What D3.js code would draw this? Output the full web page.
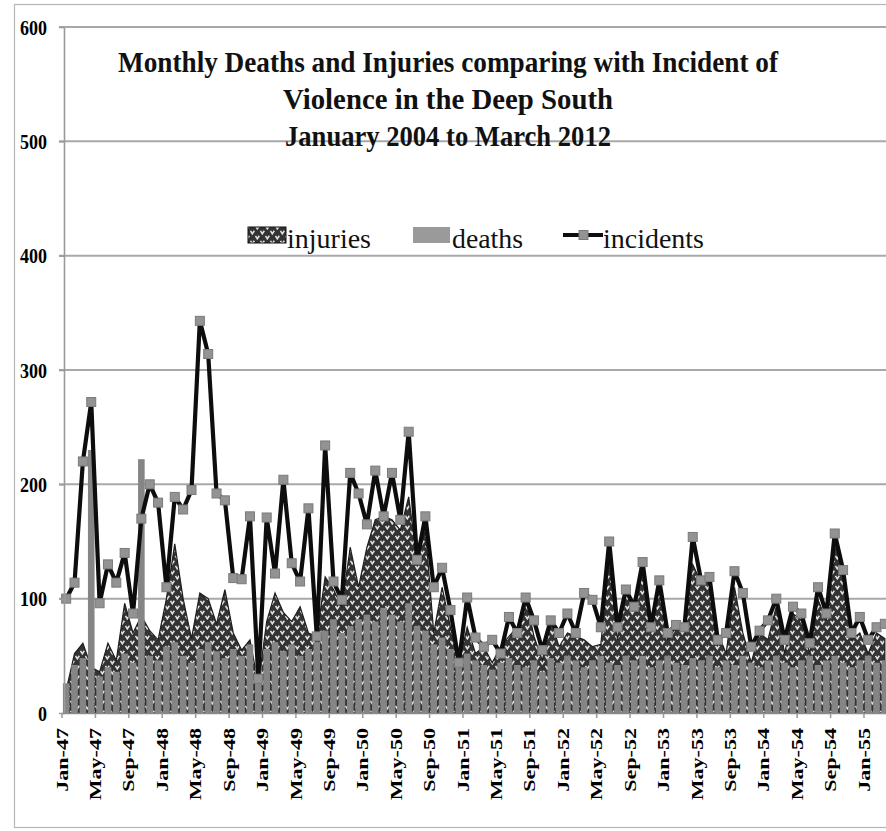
<!DOCTYPE html>
<html>
<head>
<meta charset="utf-8">
<script src="https://cdn.jsdelivr.net/npm/d3@7/dist/d3.min.js"></script>
<style>
  body { margin: 0; background: #fff; }
  svg { display: block; }
</style>
</head>
<body>
<svg id="chart" width="886" height="831"></svg>
<script>
// Month categories, January 2547 (2004) to March 2555 (2012), Thai year labels
const monthNames = ["Jan","Feb","Mar","Apr","May","Jun","Jul","Aug","Sep","Oct","Nov","Dec"];
const years = [47, 48, 49, 50, 51, 52, 53, 54, 55];
const categories = [];
years.forEach(y => monthNames.forEach((m, i) => {
  if (y < 55 || i < 3) categories.push(m + "-" + y);
}));

// Monthly injuries
const injuries = [
  20, 52, 61, 40, 36, 61, 46, 96, 70, 85, 72, 64,
  100, 148, 100, 65, 105, 100, 78, 108, 70, 55, 64, 25,
  80, 105, 88, 80, 93, 70, 67, 119, 108, 93, 145, 110,
  145, 169, 172, 169, 160, 189, 134, 160, 70, 110, 75, 44,
  75, 52, 58, 44, 58, 67, 75, 101, 67, 46, 81, 58,
  70, 67, 64, 58, 60, 135, 64, 105, 90, 128, 70, 114,
  64, 75, 75, 130, 114, 116, 70, 52, 110, 70, 44, 70,
  64, 93, 52, 87, 81, 52, 99, 81, 151, 122, 64, 70,
  52, 70, 65
];

// Monthly deaths
const deaths = [
  26, 42, 48, 230, 32, 40, 36, 52, 44, 222, 50, 46,
  58, 62, 50, 44, 56, 62, 54, 48, 56, 50, 60, 42,
  56, 62, 54, 60, 50, 56, 62, 72, 82, 70, 76, 82,
  86, 80, 92, 86, 80, 96, 76, 72, 60, 66, 56, 40,
  52, 46, 42, 38, 44, 48, 42, 40, 46, 36, 48, 44,
  50, 46, 40, 46, 50, 44, 42, 50, 46, 50, 40, 46,
  50, 44, 42, 48, 46, 50, 40, 46, 42, 50, 44, 40,
  46, 50, 44, 40, 46, 50, 42, 46, 50, 44, 40, 46,
  50, 44, 46
];

// Monthly incidents of violence
const incidents = [
  100, 114, 220, 272, 96, 130, 114, 140, 87, 170, 200, 184,
  110, 189, 178, 195, 343, 314, 192, 186, 118, 117, 172, 30,
  171, 122, 204, 131, 115, 179, 67, 234, 115, 99, 210, 192,
  165, 212, 172, 210, 169, 246, 134, 172, 110, 127, 90, 44,
  101, 66, 58, 64, 52, 84, 70, 101, 81, 55, 81, 70,
  87, 70, 105, 99, 75, 150, 75, 108, 93, 132, 75, 116,
  70, 77, 75, 154, 116, 119, 64, 70, 124, 105, 58, 72,
  81, 100, 64, 93, 87, 61, 110, 87, 157, 125, 70, 84,
  64, 75, 78
];

const yTicks = [0, 100, 200, 300, 400, 500, 600];
const xTickLabels = categories.filter((d, i) => i % 4 === 0);

const titleLines = [
  "Monthly Deaths and Injuries comparing with Incident of",
  "Violence in the Deep South",
  "January 2004 to March 2012"
];
const titleWidths = [660, 330, 326];
const legendItems = ["injuries", "deaths", "incidents"];
const legendWidths = [84, 71, 101];

const serif = "'Liberation Serif', 'Times New Roman', serif";

const svg = d3.select("#chart");

// Frame around the chart
svg.append("rect")
  .attr("x", 14.5).attr("y", 4.5)
  .attr("width", 900).attr("height", 823)
  .attr("fill", "#fff")
  .attr("stroke", "#b4b4b4").attr("stroke-width", 1.2);

// Weave fill used by the injuries area
const defs = svg.append("defs");
const weave = defs.append("pattern")
  .attr("id", "weave")
  .attr("patternUnits", "userSpaceOnUse")
  .attr("width", 10).attr("height", 10);
weave.append("rect").attr("width", 10).attr("height", 10).attr("fill", "#333");
weave.append("path")
  .attr("d", "M0.5,0.8 L2.3,3.8 L4.3,0.8 M5.5,5.8 L7.3,8.8 L9.3,5.8")
  .attr("stroke", "#e0e0e0").attr("stroke-width", 1.6).attr("fill", "none");

// Scales
const x = d3.scaleBand()
  .domain(categories)
  .range([62, 62 + categories.length * 8.354])
  .padding(0);
const bw = x.bandwidth();
const cx = d => x(d) + bw / 2;
const y = d3.scaleLinear().domain([0, 600]).range([713, 27]);

// Horizontal gridlines
svg.append("g")
  .selectAll("line")
  .data(yTicks.filter(t => t > 0))
  .join("line")
  .attr("x1", 59).attr("x2", 886)
  .attr("y1", d => y(d)).attr("y2", d => y(d))
  .attr("stroke", "#a8a8a8").attr("stroke-width", 2);

// Injuries area (behind)
const area = d3.area()
  .x((d, i) => cx(categories[i]))
  .y0(y(0))
  .y1(d => y(d));
svg.append("path")
  .datum(injuries)
  .attr("d", area)
  .attr("fill", "url(#weave)")
  .attr("stroke", "#1e1e1e").attr("stroke-width", 1.2);

// Deaths columns
const colW = 6.6;
svg.append("g")
  .selectAll("rect")
  .data(deaths)
  .join("rect")
  .attr("x", (d, i) => cx(categories[i]) - colW / 2)
  .attr("width", colW)
  .attr("y", d => y(d))
  .attr("height", d => y(0) - y(d))
  .attr("fill", "#858585");

// Incidents line with square markers
const line = d3.line()
  .x((d, i) => cx(categories[i]))
  .y(d => y(d));
svg.append("path")
  .datum(incidents)
  .attr("d", line)
  .attr("fill", "none")
  .attr("stroke", "#0d0d0d")
  .attr("stroke-width", 4.2)
  .attr("stroke-linejoin", "round");
const mk = 9;
svg.append("g")
  .selectAll("rect")
  .data(incidents)
  .join("rect")
  .attr("x", (d, i) => cx(categories[i]) - mk / 2)
  .attr("y", d => y(d) - mk / 2)
  .attr("width", mk).attr("height", mk)
  .attr("fill", "#939393")
  .attr("stroke", "#7a7a7a").attr("stroke-width", 1);

// Y axis
const yAxis = svg.append("g")
  .attr("transform", "translate(64,0)")
  .call(d3.axisLeft(y).tickValues(yTicks).tickSize(5).tickPadding(12).tickSizeOuter(0));
yAxis.select(".domain").attr("stroke", "#9a9a9a").attr("stroke-width", 1.6);
yAxis.selectAll(".tick line").attr("stroke", "#9a9a9a").attr("stroke-width", 1.5);
yAxis.selectAll(".tick text")
  .attr("font-family", serif)
  .attr("font-weight", "bold")
  .attr("font-size", 22)
  .attr("fill", "#000")
  .attr("textLength", d => String(d).length * 9)
  .attr("lengthAdjust", "spacingAndGlyphs");

// X axis: ticks and labels at the start of every fourth month
const xAxis = svg.append("g")
  .attr("transform", "translate(0,713)")
  .call(d3.axisBottom(x).tickValues(xTickLabels).tickSize(5).tickSizeOuter(0));
xAxis.select(".domain").attr("stroke", "#8a8a8a").attr("stroke-width", 1.6);
xAxis.selectAll(".tick").attr("transform", d => `translate(${x(d)},0)`);
xAxis.selectAll(".tick line").attr("stroke", "#9a9a9a").attr("stroke-width", 1.5);
xAxis.selectAll(".tick text")
  .attr("y", null).attr("dy", "0.35em")
  .attr("transform", "translate(0,15) rotate(-90) scale(1.38,1)")
  .attr("text-anchor", "end")
  .attr("font-family", serif)
  .attr("font-weight", "bold")
  .attr("font-size", 16)
  .attr("fill", "#000");

// Title
svg.append("g")
  .selectAll("text")
  .data(titleLines)
  .join("text")
  .attr("x", 448)
  .attr("y", (d, i) => 72 + i * 37)
  .attr("text-anchor", "middle")
  .attr("font-family", serif)
  .attr("font-weight", "bold")
  .attr("font-size", 29)
  .attr("fill", "#111")
  .attr("textLength", (d, i) => titleWidths[i])
  .attr("lengthAdjust", "spacingAndGlyphs")
  .text(d => d);

// Legend
const legend = svg.append("g");
const swX = [248, 413, 563];
const txX = [287, 452, 603];
legend.append("rect").attr("x", swX[0]).attr("y", 227).attr("width", 38).attr("height", 16)
  .attr("fill", "url(#weave)").attr("stroke", "#111").attr("stroke-width", 1);
legend.append("rect").attr("x", swX[1]).attr("y", 227).attr("width", 37).attr("height", 16)
  .attr("fill", "#9a9a9a");
legend.append("line").attr("x1", swX[2]).attr("x2", swX[2] + 40).attr("y1", 235).attr("y2", 235)
  .attr("stroke", "#0d0d0d").attr("stroke-width", 4.2);
legend.append("rect").attr("x", swX[2] + 16).attr("y", 230.5).attr("width", mk).attr("height", mk)
  .attr("fill", "#939393").attr("stroke", "#7a7a7a");
legend.selectAll("text")
  .data(legendItems)
  .join("text")
  .attr("x", (d, i) => txX[i])
  .attr("y", 248)
  .attr("font-family", serif)
  .attr("font-size", 27)
  .attr("fill", "#111")
  .attr("textLength", (d, i) => legendWidths[i])
  .attr("lengthAdjust", "spacingAndGlyphs")
  .text(d => d);
</script>
</body>
</html>
